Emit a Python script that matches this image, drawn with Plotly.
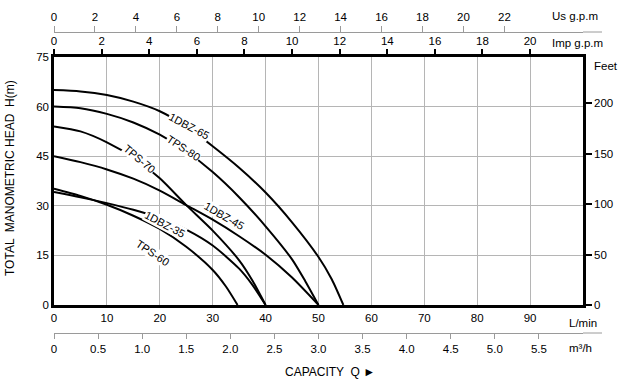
import plotly.graph_objects as go

# ---------------- data (Q in L/min, H in m) ----------------
q_1dbz65 = [0, 5, 10, 15, 20, 25, 30, 35, 40, 45, 50, 52.5, 54.7]
h_1dbz65 = [65, 64.6, 63.5, 61.5, 58.6, 54, 48, 41.5, 34, 25, 14.5, 7.8, 0]
q_tps80 = [0, 5, 10, 15, 20, 25, 30, 35, 40, 45, 47.5, 50]
h_tps80 = [60, 59.5, 57.8, 55.2, 51.5, 46.5, 40.2, 32.6, 23.8, 13.8, 7.2, 0]
q_tps70 = [0, 5, 10, 15, 20, 25, 30, 35, 37.5, 40]
h_tps70 = [54, 52.5, 49.2, 44.6, 38.3, 30.2, 22.5, 13.5, 7.4, 0]
q_1dbz45 = [0, 5, 10, 15, 20, 25, 30, 35, 40, 45, 50]
h_1dbz45 = [45, 43.2, 41, 38.2, 34.6, 30.2, 25.8, 20.8, 15.2, 8.3, 0]
q_1dbz35 = [0, 5, 10, 15, 20, 25, 30, 35, 37.5, 40]
h_1dbz35 = [34.2, 32.6, 30.8, 28.8, 26.3, 22.8, 18, 11, 6.1, 0]
q_tps60 = [0, 5, 10, 15, 20, 25, 30, 32.5, 34.7]
h_tps60 = [35.2, 33, 30.3, 27, 23, 17.6, 10.6, 5.6, 0]

curve_names = ["1DBZ-65", "TPS-80", "TPS-70", "1DBZ-45", "1DBZ-35", "TPS-60"]
label_q = [25.5, 24.5, 16.2, 32.2, 20.9, 18.7]
label_h = [54, 47.5, 44.2, 26.8, 24.5, 15.7]
label_angle = [28, 33, 40, 30, 28, 34]

lmin_ticks = [0, 10, 20, 30, 40, 50, 60, 70, 80, 90]
head_ticks = [0, 15, 30, 45, 60, 75]
feet_ticks = [0, 50, 100, 150, 200]
imp_ticks = [0, 2, 4, 6, 8, 10, 12, 14, 16, 18, 20]
us_ticks = [0, 2, 4, 6, 8, 10, 12, 14, 16, 18, 20, 22]
m3h_ticks = [0, 0.5, 1.0, 1.5, 2.0, 2.5, 3.0, 3.5, 4.0, 4.5, 5.0, 5.5]
m3h_labels = ["0", "0.5", "1.0", "1.5", "2.0", "2.5", "3.0", "3.5", "4.0", "4.5", "5.0", "5.5"]

FT_PER_M = 3.2808
LMIN_PER_IMP = 4.5
LMIN_PER_US = 3.87
LMIN_PER_M3H = 16.667

# ---------------- geometry (window pixels) ----------------
W, H = 621, 383
left_px, right_px = 54, 602          # extent of outer scales
top_px, bot_px = 32, 333             # US scale line, m3/h scale line
plot_right_px = 583
plot_top_px, plot_bot_px = 57, 305
ML = left_px
MR = W - right_px
MT = top_px
MB = H - bot_px
pw = right_px - left_px
ph = bot_px - top_px
xdom_end = (plot_right_px - left_px) / pw
ydom = [(bot_px - plot_bot_px) / ph, (bot_px - plot_top_px) / ph]


def px(x):
    return (x - left_px) / pw


def py(y):
    return (bot_px - y) / ph


FONT = "Liberation Sans, Arial, sans-serif"
fig = go.Figure()

series = [(q_1dbz65, h_1dbz65), (q_tps80, h_tps80), (q_tps70, h_tps70),
          (q_1dbz45, h_1dbz45), (q_1dbz35, h_1dbz35), (q_tps60, h_tps60)]
for (q, h), name in zip(series, curve_names):
    fig.add_trace(go.Scatter(x=q, y=h, mode="lines", name=name,
                             line=dict(color="black", width=2, shape="spline", smoothing=0.7),
                             showlegend=False, hoverinfo="skip", cliponaxis=False))

# invisible traces so that the secondary axes are drawn
for xa, ya in [("x2", "y"), ("x3", "y"), ("x4", "y"), ("x", "y2")]:
    fig.add_trace(go.Scatter(x=[0], y=[0], xaxis=xa, yaxis=ya, mode="markers",
                             marker=dict(opacity=0), showlegend=False, hoverinfo="skip"))

for name, q, h, a in zip(curve_names, label_q, label_h, label_angle):
    fig.add_annotation(x=q, y=h, text=name, textangle=a, showarrow=False,
                       bgcolor="white", borderpad=0,
                       font=dict(family=FONT, size=11, color="black"))

tickfont = dict(family=FONT, size=11.5, color="black")
grid = "#b5b5b5"
gray = "#9a9a9a"

fig.update_layout(
    width=W, height=H, margin=dict(l=ML, r=MR, t=MT, b=MB, autoexpand=False),
    paper_bgcolor="white", plot_bgcolor="white",
    xaxis=dict(domain=[0, xdom_end], range=[0, 100], tickvals=lmin_ticks,
               showgrid=True, gridcolor=grid, gridwidth=1.3, zeroline=False,
               showline=True, linecolor="black", linewidth=2.5,
               ticks="", tickfont=tickfont, anchor="y"),
    yaxis=dict(domain=ydom, range=[0, 75], tickvals=head_ticks,
               showgrid=True, gridcolor=grid, gridwidth=1.3, zeroline=False,
               showline=True, linecolor="black", linewidth=2.5,
               ticks="", tickfont=tickfont, anchor="x"),
    yaxis2=dict(overlaying="y", side="right", anchor="x", range=[0, 75 * FT_PER_M],
                tickvals=feet_ticks, showgrid=False, zeroline=False,
                showline=True, linecolor="black", linewidth=2.5,
                ticks="outside", ticklen=6, tickwidth=2, tickcolor="black",
                tickfont=tickfont),
    xaxis2=dict(overlaying="x", side="top", anchor="y", range=[0, 100 / LMIN_PER_IMP],
                tickvals=imp_ticks, showgrid=False, zeroline=False,
                showline=True, linecolor="black", linewidth=2.5,
                ticks="outside", ticklen=5, tickwidth=2, tickcolor="black",
                tickfont=tickfont),
    xaxis3=dict(overlaying="x", anchor="free", position=1, side="top",
                range=[0, 100 / LMIN_PER_US], tickvals=us_ticks,
                showgrid=False, zeroline=False, showline=True, linecolor=gray,
                linewidth=1, ticks="outside", ticklen=6, tickwidth=1,
                tickcolor=gray, tickfont=tickfont),
    xaxis4=dict(overlaying="x", anchor="free", position=0, side="bottom",
                range=[0, 100 / LMIN_PER_M3H], tickvals=m3h_ticks,
                ticktext=m3h_labels, showgrid=False, zeroline=False, showline=True,
                linecolor=gray, linewidth=1, ticks="outside", ticklen=5,
                tickwidth=1, tickcolor=gray, tickfont=tickfont),
)

# extend the two outer scale lines beyond the frame, as in the reference
for yy in (1, 0):
    fig.add_shape(type="line", xref="paper", yref="paper", x0=xdom_end, x1=1,
                  y0=yy, y1=yy, line=dict(color=gray, width=1))

unit_font = dict(family=FONT, size=11.5, color="black")
for text, xx, yy in [("Us g.p.m", 575, 16), ("Imp g.p.m", 577, 43), ("Feet", 606, 66),
                     ("L/min", 583, 323), ("m\u00b3/h", 580, 348)]:
    fig.add_annotation(xref="paper", yref="paper", x=px(xx), y=py(yy), text=text,
                       showarrow=False, font=unit_font, xanchor="center", yanchor="middle")

fig.add_annotation(xref="paper", yref="paper", x=px(330), y=py(372),
                   text="CAPACITY  Q \u25ba", showarrow=False,
                   font=dict(family=FONT, size=12, color="black"),
                   xanchor="center", yanchor="middle")
fig.add_annotation(xref="paper", yref="paper", x=px(10), y=py(178),
                   text="TOTAL  MANOMETRIC HEAD  H(m)", textangle=-90, showarrow=False,
                   font=dict(family=FONT, size=12, color="black"),
                   xanchor="center", yanchor="middle")

fig.write_html("out.html", config={"displayModeBar": False},
               post_script="document.body.style.margin='0';document.body.style.padding='0';")
